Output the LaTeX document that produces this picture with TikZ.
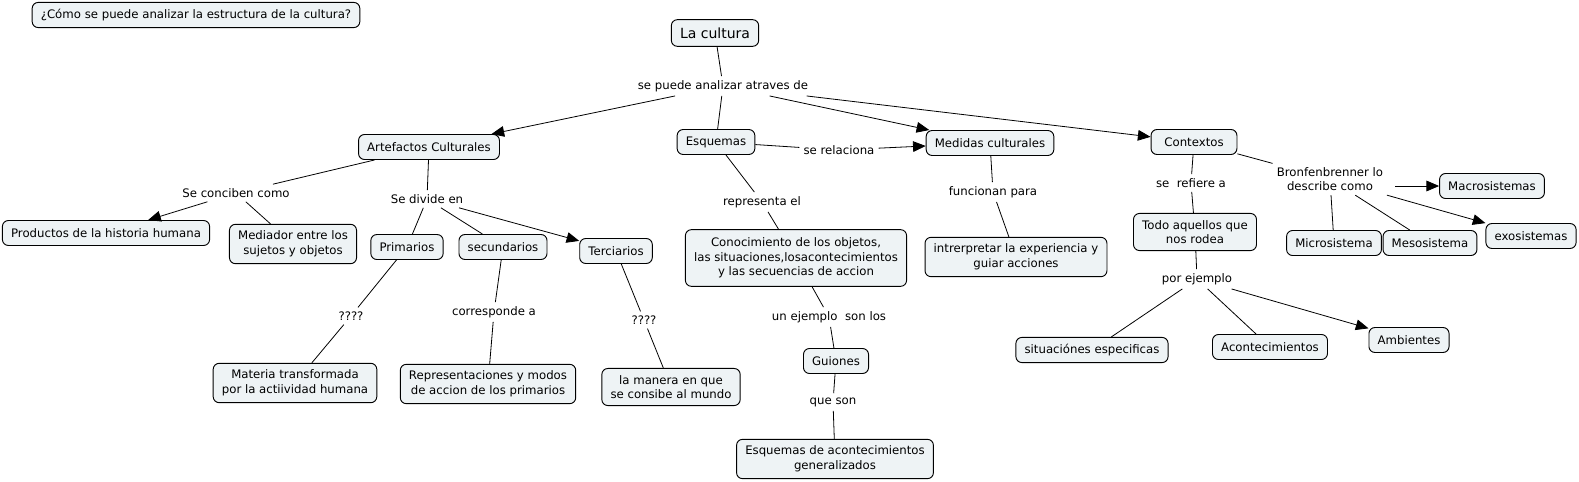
\documentclass[tikz,border=0pt]{standalone}
\usepackage{fontspec}
\setmainfont{DejaVu Sans}
\usetikzlibrary{arrows.meta}
\definecolor{cFill}{HTML}{EEF3F5}
\tikzset{
  concept/.style={rounded corners=4.5pt,draw=black,fill=cFill,line width=0.7pt,
              inner xsep=6.5pt,inner ysep=5pt,minimum height=18.75pt,align=center,
              font=\fontsize{8.8}{11}\selectfont},
  phrase/.style={inner sep=3pt,align=center,font=\fontsize{8.8}{11}\selectfont},
  link/.style={line width=0.6pt},
  linkto/.style={link,-{Triangle[length=9.5pt,width=8pt]}},
}

\begin{document}
\begin{tikzpicture}[x=0.75pt,y=-0.75pt]
  \useasboundingbox (0,0) rectangle (1579,482);
  % question and root
  \node[concept] (quest) at (196,15) {¿Cómo se puede analizar la estructura de la cultura?};
  \node[concept,font=\fontsize{10.5}{12}\selectfont,minimum height=20pt] (cult) at (715,33) {La cultura};
  \node[phrase] (analiza) at (723,86) {se puede analizar atraves de};
  % first level
  \node[concept] (artef) at (429,147) {Artefactos Culturales};
  \node[concept] (esq) at (716,142) {Esquemas};
  \node[phrase] (relac) at (839,150) {se relaciona};
  \node[concept] (medid) at (990,143) {Medidas culturales};
  \node[concept,inner xsep=10pt] (ctx) at (1194,142) {Contextos};
  % artefactos
  \node[phrase] (conc) at (236,193) {Se conciben como};
  \node[phrase] (divide) at (427,199) {Se divide en};
  \node[concept] (prod) at (106,233) {Productos de la historia humana};
  \node[concept] (medi) at (293,244) {Mediador entre los\\sujetos y objetos};
  \node[concept] (prim) at (407,247) {Primarios};
  \node[concept] (secu) at (503,247) {secundarios};
  \node[concept] (terc) at (616,251) {Terciarios};
  \node[phrase] (qA) at (351,316) {????};
  \node[phrase] (corr) at (494,312) {corresponde a};
  \node[phrase] (qB) at (644,320) {????};
  \node[concept] (mater) at (295,383) {Materia transformada\\por la actiividad humana};
  \node[concept] (repr) at (488,384) {Representaciones y modos\\de accion de los primarios};
  \node[concept] (maner) at (671,387) {la manera en que\\se consibe al mundo};
  % esquemas
  \node[phrase] (repres) at (762,202) {representa el};
  \node[concept,inner ysep=6pt] (conoc) at (796,258) {Conocimiento de los objetos,\\las situaciones,losacontecimientos\\y las secuencias de accion};
  \node[phrase] (ejem) at (829,317) {un ejemplo\ \ son los};
  \node[concept] (guion) at (836,361) {Guiones};
  \node[phrase] (queson) at (833,402) {que son};
  \node[concept] (esqac) at (835,459) {Esquemas de acontecimientos\\generalizados};
  % medidas
  \node[phrase] (func) at (993,192) {funcionan para};
  \node[concept] (interp) at (1016,257) {intrerpretar la experiencia y\\guiar acciones};
  % contextos
  \node[phrase] (refiere) at (1191,183) {se\ \ refiere a};
  \node[concept] (todo) at (1195,232) {Todo aquellos que\\nos rodea};
  \node[phrase] (porej) at (1197,279) {por ejemplo};
  \node[concept] (situ) at (1092,350) {situaciónes especificas};
  \node[concept] (acont) at (1270,347) {Acontecimientos};
  \node[concept] (amb) at (1409,340) {Ambientes};
  \node[phrase] (bronf) at (1330,179) {Bronfenbrenner lo\\describe como};
  \node[concept] (macro) at (1492,186) {Macrosistemas};
  \node[concept] (micro) at (1334,243) {Microsistema};
  \node[concept] (meso) at (1430,243) {Mesosistema};
  \node[concept] (exo) at (1531,236) {exosistemas};
  % connectors
  \draw[link] (cult) -- (analiza);
  \draw[linkto] (analiza) -- (artef);
  \draw[link] (analiza) -- (esq);
  \draw[linkto] (analiza) -- (medid);
  \draw[linkto] (analiza) -- (ctx);
  \draw[link] (esq) -- (relac);
  \draw[linkto] (relac) -- (medid);
  \draw[link] (artef) -- (conc);
  \draw[linkto] (conc) -- (prod);
  \draw[link] (conc) -- (medi);
  \draw[link] (artef) -- (divide);
  \draw[link] (divide) -- (prim);
  \draw[link] (divide) -- (secu);
  \draw[linkto] (divide) -- (terc);
  \draw[link] (prim) -- (qA);
  \draw[link] (qA) -- (mater);
  \draw[link] (secu) -- (corr);
  \draw[link] (corr) -- (repr);
  \draw[link] (terc) -- (qB);
  \draw[link] (qB) -- (maner);
  \draw[link] (esq) -- (repres);
  \draw[link] (repres) -- (conoc);
  \draw[link] (conoc) -- (ejem);
  \draw[link] (ejem) -- (guion);
  \draw[link] (guion) -- (queson);
  \draw[link] (queson) -- (esqac);
  \draw[link] (medid) -- (func);
  \draw[link] (func) -- (interp);
  \draw[link] (ctx) -- (refiere);
  \draw[link] (refiere) -- (todo);
  \draw[link] (todo) -- (porej);
  \draw[link] (porej) -- (situ);
  \draw[link] (porej) -- (acont);
  \draw[linkto] (porej) -- (amb);
  \draw[link] (ctx) -- (bronf);
  \draw[linkto] ([xshift=6pt]bronf.east |- macro) -- (macro);
  \draw[link] (bronf) -- (micro);
  \draw[link] (bronf) -- (meso);
  \draw[linkto] (bronf) -- (exo);
\end{tikzpicture}
\end{document}
